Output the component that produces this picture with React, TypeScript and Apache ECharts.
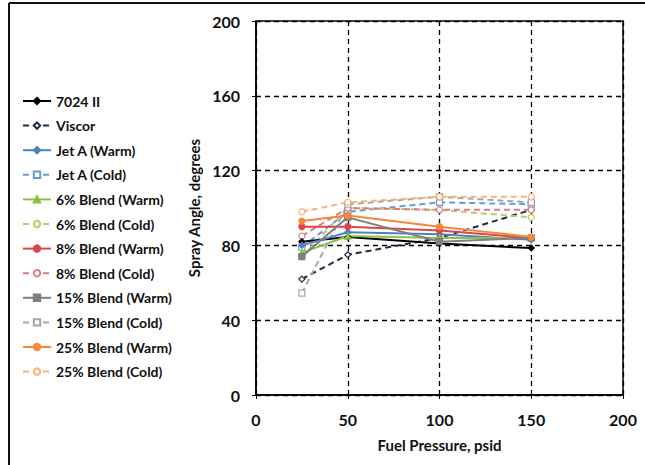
import React, { useEffect, useRef } from "react";
import * as echarts from "echarts";

const pressures = [25, 50, 100, 150];
const xTicks = [0, 50, 100, 150, 200];
const yTicks = [0, 40, 80, 120, 160, 200];

const seriesNames = [
  "7024 II",
  "Viscor",
  "Jet A (Warm)",
  "Jet A (Cold)",
  "6% Blend (Warm)",
  "6% Blend (Cold)",
  "8% Blend (Warm)",
  "8% Blend (Cold)",
  "15% Blend (Warm)",
  "15% Blend (Cold)",
  "25% Blend (Warm)",
  "25% Blend (Cold)",
];

const v7024 = [82, 84.5, 81, 78.6];
const vViscor = [62, 75, 84, 99];
const vJetAWarm = [80, 87, 86, 83];
const vJetACold = [79, 98, 103, 102];
const v6Warm = [76, 85, 84, 84];
const v6Cold = [74, 100, 99, 95];
const v8Warm = [90, 90, 88, 84];
const v8Cold = [85, 100, 99, 99];
const v15Warm = [74, 95, 82, 84];
const v15Cold = [54.5, 102, 106, 103];
const v25Warm = [93, 96, 90, 84.5];
const v25Cold = [98, 103, 106, 106];

const allValues = [
  v7024, vViscor, vJetAWarm, vJetACold, v6Warm, v6Cold,
  v8Warm, v8Cold, v15Warm, v15Cold, v25Warm, v25Cold,
];

const colors = [
  "#000000", "#1F2A44", "#4F81BD", "#6C9AD6", "#8DBF4A", "#B7CC6A",
  "#D9474A", "#E07A86", "#7F7F7F", "#A6A6A6", "#F7883A", "#F9B27A",
];
const dashed = [false, true, false, true, false, true, false, true, false, true, false, true];
const symbols = [
  "diamond", "diamond", "diamond", "rect", "triangle", "circle",
  "circle", "circle", "rect", "rect", "circle", "circle",
];

export default function App() {
  const ref = useRef<HTMLDivElement>(null);
  useEffect(() => {
    if (!ref.current) return;
    const chart = echarts.init(ref.current, null, { renderer: "svg" });
    const font = "Lato";
    const series = seriesNames.map((name, i) => ({
      name,
      type: "line",
      data: pressures.map((p, j) => [p, allValues[i][j]]),
      symbol: symbols[i],
      symbolSize: 6,
      showSymbol: true,
      lineStyle: {
        color: colors[i],
        width: 2,
        type: dashed[i] ? [6, 4] : "solid",
      },
      itemStyle: {
        color: dashed[i] ? "#ffffff" : colors[i],
        borderColor: colors[i],
        borderWidth: 1.2,
      },
      z: dashed[i] ? 3 : 4,
    }));
    chart.setOption({
      animation: false,
      backgroundColor: "#ffffff",
      graphic: [
        { type: "line", shape: { x1: 9, y1: 3, x2: 9, y2: 465 }, style: { stroke: "#111", lineWidth: 2 } },
        { type: "line", shape: { x1: 9, y1: 3, x2: 645, y2: 3 }, style: { stroke: "#111", lineWidth: 2 } },
      ],
      grid: {
        left: 256,
        right: 22,
        top: 21,
        bottom: 70,
        show: true,
        borderColor: "#000",
        borderWidth: 1.5,
        backgroundColor: "transparent",
      },
      legend: {
        orient: "vertical",
        left: 17,
        top: 89,
        itemWidth: 28,
        itemHeight: 8,
        itemGap: 10.6,
        textStyle: { fontFamily: font, fontWeight: "bold", fontSize: 14, color: "#111" },
        data: seriesNames,
      },
      xAxis: {
        type: "value",
        min: xTicks[0],
        max: xTicks[xTicks.length - 1],
        interval: 50,
        name: "Fuel Pressure, psid",
        nameLocation: "middle",
        nameGap: 42,
        nameTextStyle: { fontFamily: font, fontWeight: "bold", fontSize: 15, color: "#111" },
        axisLine: { show: true, onZero: false, lineStyle: { color: "#000", width: 1.5 } },
        axisTick: { show: true, length: 4, lineStyle: { color: "#000" } },
        axisLabel: { fontFamily: font, fontWeight: "bold", fontSize: 16, color: "#111", margin: 16 },
        splitLine: { show: true, lineStyle: { color: "#000", width: 1.3, type: [5, 4] } },
      },
      yAxis: {
        type: "value",
        min: yTicks[0],
        max: yTicks[yTicks.length - 1],
        interval: 40,
        name: "Spray Angle, degrees",
        nameLocation: "middle",
        nameGap: 48,
        nameTextStyle: { fontFamily: font, fontWeight: "bold", fontSize: 15, color: "#111" },
        axisLine: { show: true, lineStyle: { color: "#000", width: 1.5 } },
        axisTick: { show: true, length: 4, lineStyle: { color: "#000" } },
        axisLabel: { fontFamily: font, fontWeight: "bold", fontSize: 16, color: "#111", margin: 16 },
        splitLine: { show: true, lineStyle: { color: "#000", width: 1.3, type: [5, 4] } },
      },
      series,
    });
    return () => chart.dispose();
  }, []);
  return <div ref={ref} style={{ width: 645, height: 465, position: "absolute", left: 0, top: 0 }} />;
}
